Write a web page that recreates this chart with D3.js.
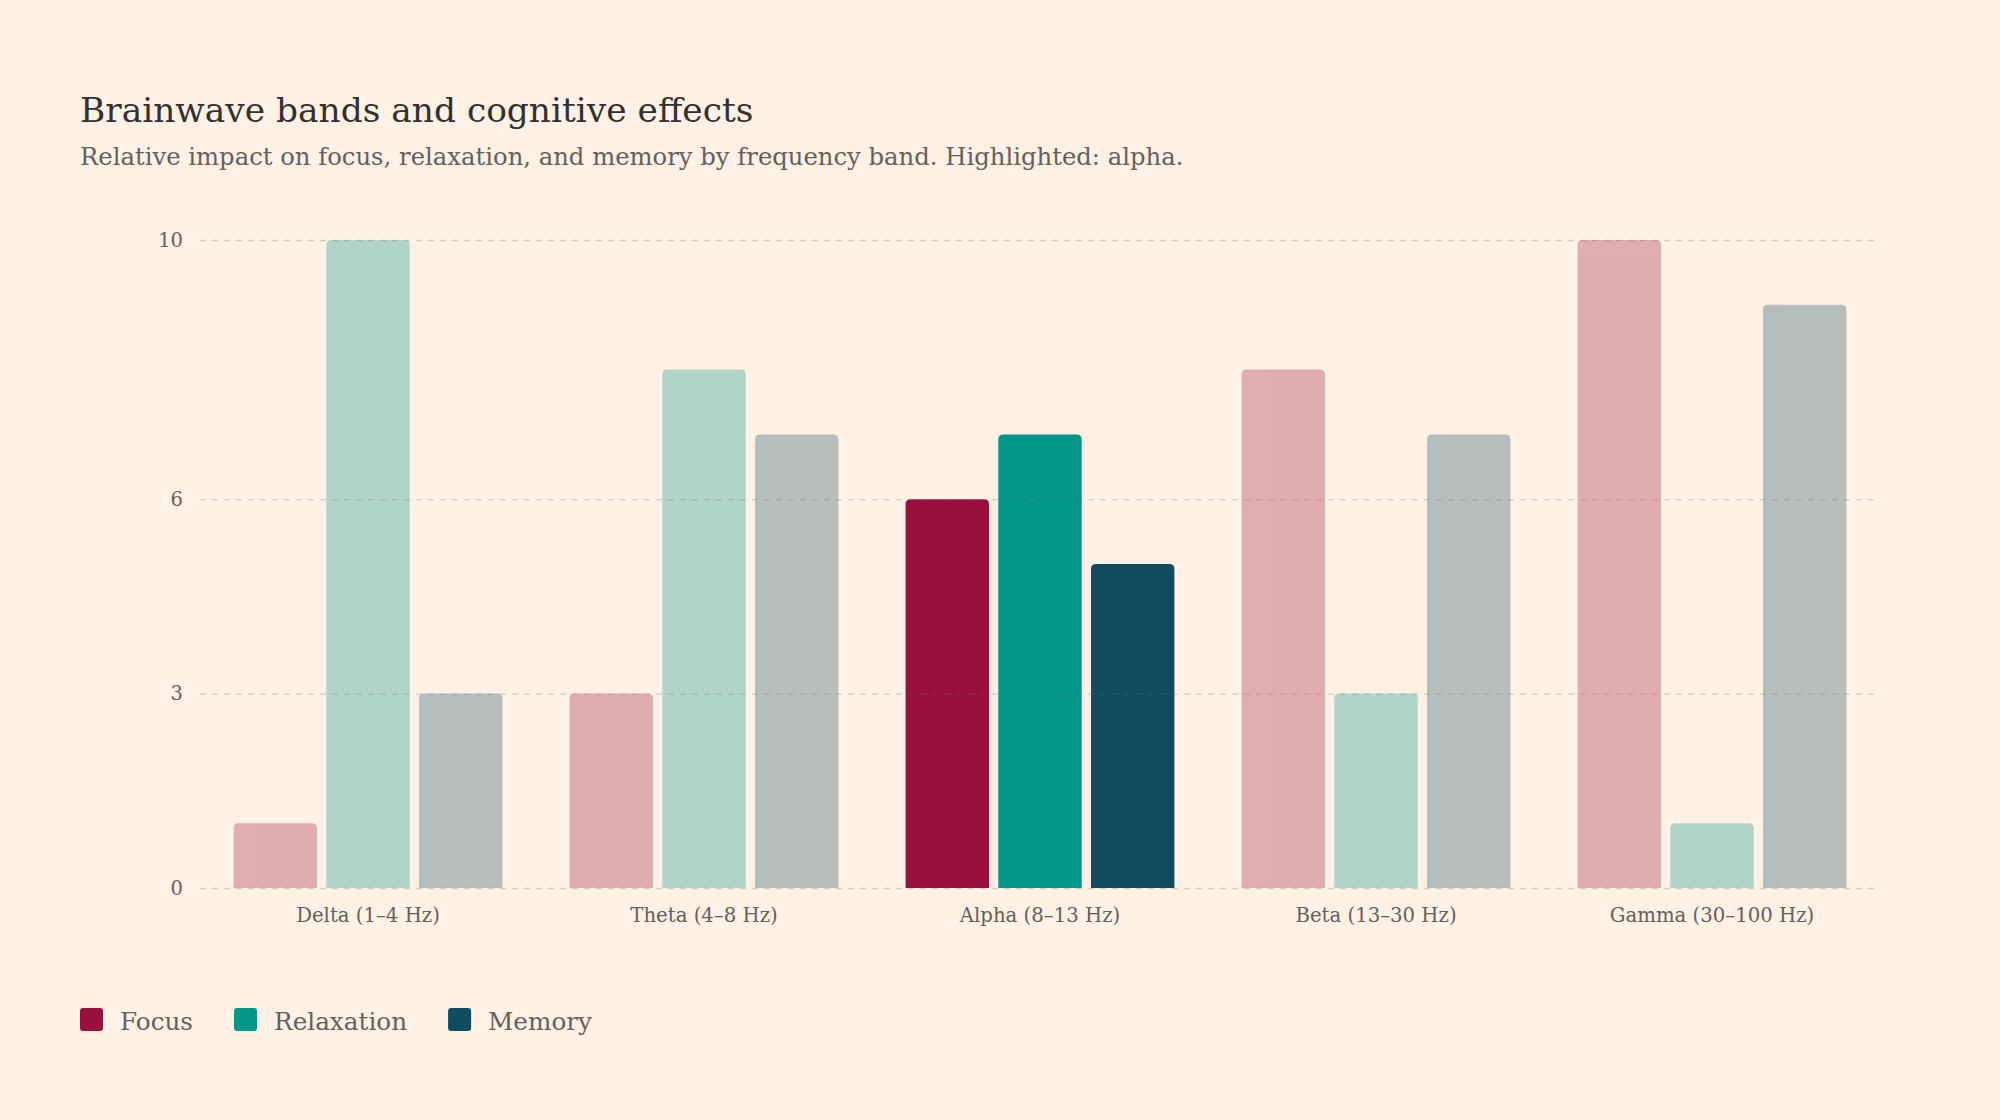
<!DOCTYPE html>
<html>
<head>
<meta charset="utf-8">
<script src="https://cdn.jsdelivr.net/npm/d3@7"></script>
<style>
  html, body { margin: 0; padding: 0; background: #fff1e5; }
  svg { display: block; font-family: "DejaVu Serif", Georgia, serif; }
</style>
</head>
<body>
<svg id="chart" width="2000" height="1120"></svg>
<script>
// data
var bands = ["Delta (1–4 Hz)", "Theta (4–8 Hz)", "Alpha (8–13 Hz)", "Beta (13–30 Hz)", "Gamma (30–100 Hz)"];
var seriesNames = ["Focus", "Relaxation", "Memory"];
var focus = [1, 3, 6, 8, 10];
var relaxation = [10, 8, 7, 3, 1];
var memory = [3, 7, 5, 7, 9];
var yTicks = [0, 3, 6, 10];
var highlighted = "Alpha (8–13 Hz)";

var colors = ["#990f3d", "#00968a", "#0f4c5f"];
var values = [focus, relaxation, memory];

var width = 2000, height = 1120;
var margin = {top: 240, right: 120, bottom: 232, left: 200};

var svg = d3.select("#chart");

svg.append("rect")
  .attr("width", width)
  .attr("height", height)
  .attr("fill", "#fff1e5");

// titles
svg.append("text")
  .attr("x", 80)
  .attr("y", 122)
  .attr("fill", "#33302e")
  .attr("font-size", 34.4)
  .text("Brainwave bands and cognitive effects");

svg.append("text")
  .attr("x", 80)
  .attr("y", 165)
  .attr("fill", "#66605c")
  .attr("font-size", 24.3)
  .text("Relative impact on focus, relaxation, and memory by frequency band. Highlighted: alpha.");

// scales
var x0 = d3.scaleBand()
  .domain(bands)
  .range([margin.left, width - margin.right])
  .paddingInner(0.2)
  .paddingOuter(0.1);

var x1 = d3.scaleBand()
  .domain(seriesNames)
  .range([0, x0.bandwidth()])
  .paddingInner(0.1);

var y = d3.scaleLinear()
  .domain([0, 10])
  .range([height - margin.bottom, margin.top]);

// rounded top corners only
function barPath(x, yTop, w, h, r) {
  r = Math.min(r, h, w / 2);
  return "M" + x + "," + (yTop + h) +
    "V" + (yTop + r) +
    "Q" + x + "," + yTop + " " + (x + r) + "," + yTop +
    "H" + (x + w - r) +
    "Q" + (x + w) + "," + yTop + " " + (x + w) + "," + (yTop + r) +
    "V" + (yTop + h) + "Z";
}

// bars
var groups = svg.append("g").selectAll("g")
  .data(bands)
  .join("g")
  .attr("transform", function(d) { return "translate(" + x0(d) + ",0)"; })
  .attr("opacity", function(d) { return d === highlighted ? 1 : 0.3; });

groups.selectAll("path")
  .data(function(d, i) {
    return seriesNames.map(function(s, j) { return {series: s, value: values[j][i], color: colors[j]}; });
  })
  .join("path")
  .attr("d", function(d) {
    return barPath(x1(d.series), y(d.value), x1.bandwidth(), y(0) - y(d.value), 5);
  })
  .attr("fill", function(d) { return d.color; });

// gridlines (drawn over the bars)
var yAxis = d3.axisLeft(y)
  .tickValues(yTicks)
  .tickSize(-(width - margin.left - margin.right))
  .tickPadding(17)
  .tickFormat(d3.format("d"));

var gy = svg.append("g")
  .attr("transform", "translate(" + margin.left + ",0)")
  .call(yAxis);

gy.select(".domain").remove();
gy.selectAll(".tick line")
  .attr("stroke", "rgba(120,120,110,0.3)")
  .attr("stroke-width", 1.3)
  .attr("stroke-dasharray", "6,6");
gy.selectAll(".tick text")
  .attr("fill", "#66605c")
  .attr("font-size", 19.5)
  .attr("font-family", "DejaVu Serif, Georgia, serif");

// x axis labels
var xAxis = d3.axisBottom(x0).tickSize(0).tickPadding(20);
var gx = svg.append("g")
  .attr("transform", "translate(0," + y(0) + ")")
  .call(xAxis);
gx.select(".domain").remove();
gx.selectAll(".tick text")
  .attr("fill", "#66605c")
  .attr("font-size", 19.7)
  .attr("font-family", "DejaVu Serif, Georgia, serif");

// legend
var legend = svg.append("g");
var lx = 80;
seriesNames.forEach(function(s, i) {
  legend.append("rect")
    .attr("x", lx)
    .attr("y", 1008)
    .attr("width", 23)
    .attr("height", 23)
    .attr("rx", 3)
    .attr("fill", colors[i]);
  var t = legend.append("text")
    .attr("x", lx + 40)
    .attr("y", 1030)
    .attr("fill", "#66605c")
    .attr("font-size", 24.7)
    .text(s);
  lx += 40 + t.node().getComputedTextLength() + 41;
});
</script>
</body>
</html>
